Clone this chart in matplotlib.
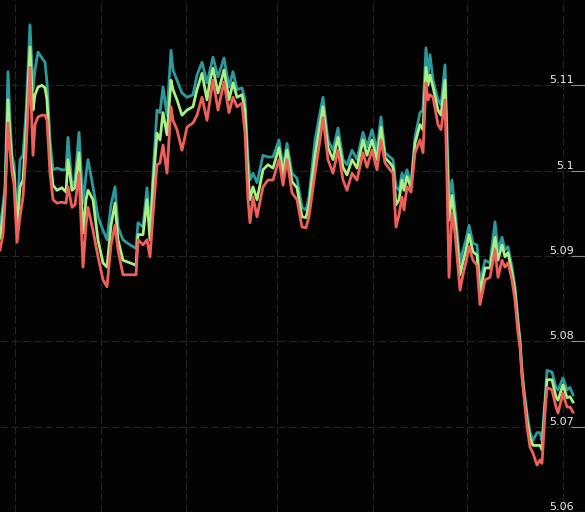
import matplotlib
matplotlib.use("Agg")
import matplotlib.pyplot as plt
from matplotlib.transforms import blended_transform_factory

# sample position (time index)
t = [0, 3, 5, 8, 10, 12, 14, 17, 20, 23, 26, 30, 33, 35, 38, 42, 45, 47, 50, 53,
     57, 62, 66, 68, 72, 75, 79, 83, 86, 88, 93, 98, 103, 107, 111, 115, 118, 123, 130, 136,
     138, 143, 147, 150, 153, 157, 160, 163, 167, 171, 173, 177, 182, 187, 193, 197, 202, 207, 210, 213,
     218, 224, 229, 233, 237, 242, 245, 248, 250, 253, 257, 263, 268, 273, 279, 283, 287, 292, 297, 302,
     306, 309, 315, 320, 323, 328, 333, 338, 343, 347, 352, 357, 363, 367, 372, 377, 381, 385, 390, 393,
     396, 399, 402, 404, 407, 411, 415, 420, 423, 426, 428, 430, 433, 438, 441, 445, 447, 449, 452, 455,
     460, 463, 466, 469, 473, 477, 480, 485, 490, 495, 498, 502, 505, 508, 512, 515, 518, 520, 522, 524,
     527, 530, 533, 537, 540, 542, 545, 547, 552, 556, 558, 563, 567, 570, 573]

teal = [5.0933, 5.0960, 5.0981, 5.1116, 5.1059, 5.1018, 5.1007, 5.0940, 5.1013, 5.1018, 5.1068, 5.1171, 5.1095, 5.1118, 5.1139, 5.1132, 5.1127, 5.1103, 5.1036, 5.1001,
        5.1003, 5.1001, 5.1001, 5.1039, 5.0981, 5.0989, 5.1045, 5.0962, 5.0995, 5.1013, 5.0981, 5.0946, 5.0930, 5.0919, 5.0960, 5.0981, 5.0934, 5.0919, 5.0913, 5.0909,
        5.0939, 5.0934, 5.0980, 5.0930, 5.0995, 5.1071, 5.1068, 5.1098, 5.1065, 5.1141, 5.1118, 5.1106, 5.1091, 5.1086, 5.1089, 5.1112, 5.1127, 5.1103, 5.1118, 5.1133,
        5.1110, 5.1132, 5.1098, 5.1116, 5.1095, 5.1097, 5.1083, 5.1013, 5.0989, 5.0997, 5.0986, 5.1018, 5.1016, 5.1016, 5.1036, 5.1004, 5.1032, 5.0997, 5.0991, 5.0957,
        5.0954, 5.0969, 5.1036, 5.1068, 5.1086, 5.1036, 5.1024, 5.1050, 5.1013, 5.1007, 5.1024, 5.1013, 5.1045, 5.1028, 5.1048, 5.1024, 5.1063, 5.1021, 5.1016, 5.1013,
        5.0981, 5.0977, 5.0997, 5.0989, 5.1001, 5.0983, 5.1039, 5.1068, 5.1071, 5.1144, 5.1112, 5.1136, 5.1106, 5.1083, 5.1077, 5.1124, 5.1048, 5.0966, 5.0989, 5.0954,
        5.0892, 5.0907, 5.0919, 5.0936, 5.0915, 5.0913, 5.0868, 5.0895, 5.0892, 5.0940, 5.0907, 5.0922, 5.0907, 5.0911, 5.0887, 5.0864, 5.0825, 5.0802, 5.0766, 5.0743,
        5.0716, 5.0693, 5.0684, 5.0693, 5.0693, 5.0684, 5.0731, 5.0766, 5.0764, 5.0746, 5.0743, 5.0757, 5.0743, 5.0746, 5.0737]

green = [5.0921, 5.0948, 5.0971, 5.1083, 5.1042, 5.1009, 5.0995, 5.0930, 5.0981, 5.0989, 5.1048, 5.1145, 5.1071, 5.1089, 5.1098, 5.1100, 5.1097, 5.1083, 5.1016, 5.0983,
         5.0977, 5.0980, 5.0975, 5.1013, 5.0977, 5.0980, 5.1021, 5.0927, 5.0966, 5.0977, 5.0966, 5.0919, 5.0892, 5.0887, 5.0936, 5.0962, 5.0919, 5.0895, 5.0892, 5.0889,
         5.0925, 5.0925, 5.0966, 5.0919, 5.0983, 5.1044, 5.1036, 5.1068, 5.1042, 5.1106, 5.1095, 5.1083, 5.1065, 5.1071, 5.1075, 5.1095, 5.1114, 5.1083, 5.1106, 5.1120,
         5.1091, 5.1118, 5.1083, 5.1103, 5.1086, 5.1089, 5.1071, 5.0995, 5.0966, 5.0981, 5.0966, 5.1001, 5.1007, 5.1003, 5.1027, 5.0995, 5.1024, 5.0987, 5.0980, 5.0946,
         5.0945, 5.0960, 5.1018, 5.1054, 5.1075, 5.1027, 5.1013, 5.1039, 5.1004, 5.0995, 5.1013, 5.1003, 5.1036, 5.1018, 5.1036, 5.1013, 5.1051, 5.1015, 5.1009, 5.1004,
         5.0960, 5.0966, 5.0989, 5.0977, 5.0993, 5.0980, 5.1032, 5.1054, 5.1048, 5.1121, 5.1100, 5.1112, 5.1098, 5.1071, 5.1065, 5.1106, 5.1024, 5.0942, 5.0971, 5.0942,
         5.0878, 5.0893, 5.0907, 5.0925, 5.0905, 5.0901, 5.0857, 5.0886, 5.0886, 5.0922, 5.0895, 5.0913, 5.0899, 5.0904, 5.0880, 5.0858, 5.0819, 5.0798, 5.0763, 5.0739,
         5.0708, 5.0687, 5.0678, 5.0678, 5.0678, 5.0673, 5.0725, 5.0755, 5.0755, 5.0735, 5.0731, 5.0749, 5.0734, 5.0735, 5.0729]

red = [5.0907, 5.0925, 5.0962, 5.1056, 5.1024, 5.0998, 5.0983, 5.0916, 5.0946, 5.0969, 5.1021, 5.1121, 5.1018, 5.1054, 5.1063, 5.1065, 5.1065, 5.1059, 5.0997, 5.0966,
       5.0962, 5.0963, 5.0962, 5.0981, 5.0957, 5.0960, 5.0997, 5.0887, 5.0936, 5.0957, 5.0930, 5.0899, 5.0872, 5.0864, 5.0913, 5.0936, 5.0907, 5.0878, 5.0878, 5.0878,
       5.0919, 5.0913, 5.0919, 5.0899, 5.0948, 5.1007, 5.1009, 5.1030, 5.0997, 5.1075, 5.1059, 5.1048, 5.1024, 5.1051, 5.1056, 5.1065, 5.1086, 5.1059, 5.1083, 5.1106,
       5.1071, 5.1104, 5.1068, 5.1086, 5.1075, 5.1079, 5.1044, 5.0966, 5.0939, 5.0969, 5.0946, 5.0981, 5.0989, 5.0989, 5.1013, 5.0983, 5.1013, 5.0974, 5.0966, 5.0934,
       5.0933, 5.0946, 5.0997, 5.1036, 5.1062, 5.1013, 5.0997, 5.1024, 5.0989, 5.0977, 5.0997, 5.0989, 5.1021, 5.1004, 5.1024, 5.1001, 5.1036, 5.1009, 5.1001, 5.0997,
       5.0934, 5.0948, 5.0969, 5.0954, 5.0981, 5.0975, 5.1021, 5.1036, 5.1021, 5.1103, 5.1083, 5.1089, 5.1086, 5.1054, 5.1048, 5.1083, 5.0989, 5.0875, 5.0950, 5.0927,
       5.0860, 5.0878, 5.0893, 5.0911, 5.0895, 5.0889, 5.0843, 5.0872, 5.0875, 5.0907, 5.0875, 5.0895, 5.0887, 5.0892, 5.0872, 5.0848, 5.0810, 5.0793, 5.0758, 5.0735,
       5.0700, 5.0676, 5.0669, 5.0655, 5.0661, 5.0657, 5.0716, 5.0746, 5.0743, 5.0723, 5.0716, 5.0739, 5.0723, 5.0723, 5.0717]

y_ticks = [5.06, 5.07, 5.08, 5.09, 5.10, 5.11]
x_grid = [15, 101, 186, 277, 373, 467, 563]

BG = "#030303"
fig = plt.figure(figsize=(5.85, 5.12), dpi=100, facecolor=BG)
ax = fig.add_axes([0, 0, 1, 1], facecolor=BG)

ax.plot(t, teal, color="#2c9a9c", lw=2.0, solid_joinstyle="round", zorder=3)
ax.plot(t, green, color="#a8ef84", lw=2.0, solid_joinstyle="round", zorder=4)
ax.plot(t, red, color="#f0605a", lw=2.0, solid_joinstyle="round", zorder=5)

ax.set_xlim(0, 585)
ax.set_ylim(5.06, 5.12)
ax.set_xticks(x_grid)
ax.set_yticks(y_ticks)
ax.grid(True, color="#242424", lw=0.8, linestyle=(0, (7, 3)), zorder=0)
ax.tick_params(left=False, bottom=False, labelleft=False, labelbottom=False,
               right=True, direction="in", length=10, color="#8c8c8c", width=0.8)
for s in ax.spines.values():
    s.set_visible(False)

tr = blended_transform_factory(ax.transAxes, ax.transData)
for v in y_ticks:
    ax.text(0.981, v, f"{v:g}", transform=tr, ha="right", va="bottom",
            color="#ececec", fontsize=8, family="DejaVu Sans", zorder=6)

fig.savefig("out.png", dpi=100, facecolor=BG)
